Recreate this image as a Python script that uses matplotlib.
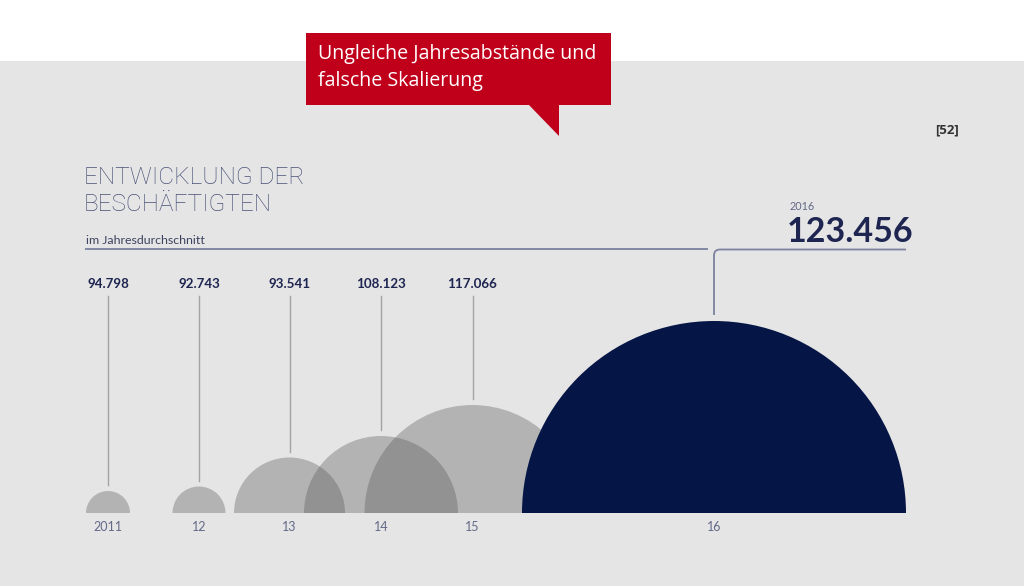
import matplotlib
matplotlib.use("Agg")
import matplotlib.pyplot as plt
from matplotlib.patches import Wedge, Rectangle, Polygon
from matplotlib.path import Path
from matplotlib.patches import PathPatch

# ---- data ----
years = ["2011", "12", "13", "14", "15", "16"]
values = [94798, 92743, 93541, 108123, 117066, 123456]
value_labels = ["94.798", "92.743", "93.541", "108.123", "117.066", "123.456"]

# ---- layout (pixel space of the slide) ----
x_pos = [108, 199, 289.5, 381, 472.5, 714]
drawn_radius = [22, 26.5, 55.5, 77, 108, 192]
base_y = 513

W, H = 1024, 586
fig = plt.figure(figsize=(W / 100, H / 100), dpi=100)
fig.patch.set_facecolor("#e5e5e5")
ax = fig.add_axes([0, 0, 1, 1])
ax.set_xlim(0, W)
ax.set_ylim(H, 0)
ax.axis("off")

# background strips
ax.add_patch(Rectangle((0, 0), W, 61, facecolor="white", edgecolor="none", zorder=0))
ax.add_patch(Rectangle((0, 61), W, H - 61, facecolor="#e5e5e5", edgecolor="none", zorder=0))

navy = "#051545"
label_col = "#1e2550"
muted = "#626987"
line_col = "#7b819f"

# semicircles
for i, (x, r) in enumerate(zip(x_pos, drawn_radius)):
    if i == len(x_pos) - 1:
        ax.add_patch(Wedge((x, base_y), r, 180, 360, facecolor=navy, edgecolor="none", zorder=3))
    else:
        ax.add_patch(Wedge((x, base_y), r, 180, 360, facecolor="#4f4f4f", alpha=0.33,
                           edgecolor="none", zorder=2))

# value labels + connectors for the grey years
for i in range(len(years) - 1):
    x, r = x_pos[i], drawn_radius[i]
    ax.text(x, 284, value_labels[i], ha="center", va="center", fontsize=9.6,
            fontweight="bold", color=label_col, family="Lato")
    ax.plot([x, x], [296, base_y - r - 6], color="#a3a3a3", lw=1.0, zorder=1)

# year labels
for x, y in zip(x_pos, years):
    ax.text(x, 527, y, ha="center", va="center", fontsize=9, color=muted, family="Lato")

# 2016 highlight
x16, r16 = x_pos[-1], drawn_radius[-1]
ax.plot([85, 708], [248.5, 248.5], color=line_col, lw=1.3, solid_capstyle="butt")
cr = 6
verts = [(906, 249.5), (x16 + cr, 249.5), (x16, 249.5), (x16, 249.5 + cr), (x16, base_y - r16 - 6)]
codes = [Path.MOVETO, Path.LINETO, Path.CURVE3, Path.CURVE3, Path.LINETO]
ax.add_patch(PathPatch(Path(verts, codes), facecolor="none", edgecolor=line_col, lw=1.3))
ax.text(790, 207, "2016", ha="left", va="center", fontsize=7.8, color=muted, family="Lato")
ax.text(787, 232, value_labels[-1], ha="left", va="center", fontsize=24.5,
        fontweight="bold", color=label_col, family="Lato")

# title
for ty, line in [(177.5, "ENTWICKLUNG DER"), (204.5, "BESCHÄFTIGTEN")]:
    ax.text(84, ty, line, ha="left", va="center", fontsize=17.6,
            fontweight="light", color="#4a5378", family="Roboto")
ax.text(86, 240, "im Jahresdurchschnitt", ha="left", va="center", fontsize=8.9,
        color="#3c4260", family="Lato")

# callout
red = "#c0001a"
ax.add_patch(Rectangle((306, 33), 305, 72, facecolor=red, edgecolor="none", zorder=5))
ax.add_patch(Polygon([(528, 104), (559, 104), (559, 136)], closed=True,
                     facecolor=red, edgecolor="none", zorder=5))
ax.text(318, 54, "Ungleiche Jahresabstände und", ha="left", va="center", fontsize=14.1,
        color="white", family="Open Sans", zorder=6)
ax.text(318, 81, "falsche Skalierung", ha="left", va="center", fontsize=14.1,
        color="white", family="Open Sans", zorder=6)

ax.text(947, 130, "[52]", ha="center", va="center", fontsize=9.5, fontweight="bold",
        color="#333333", family="Open Sans")

fig.savefig("out.png", dpi=100, facecolor=fig.get_facecolor())
